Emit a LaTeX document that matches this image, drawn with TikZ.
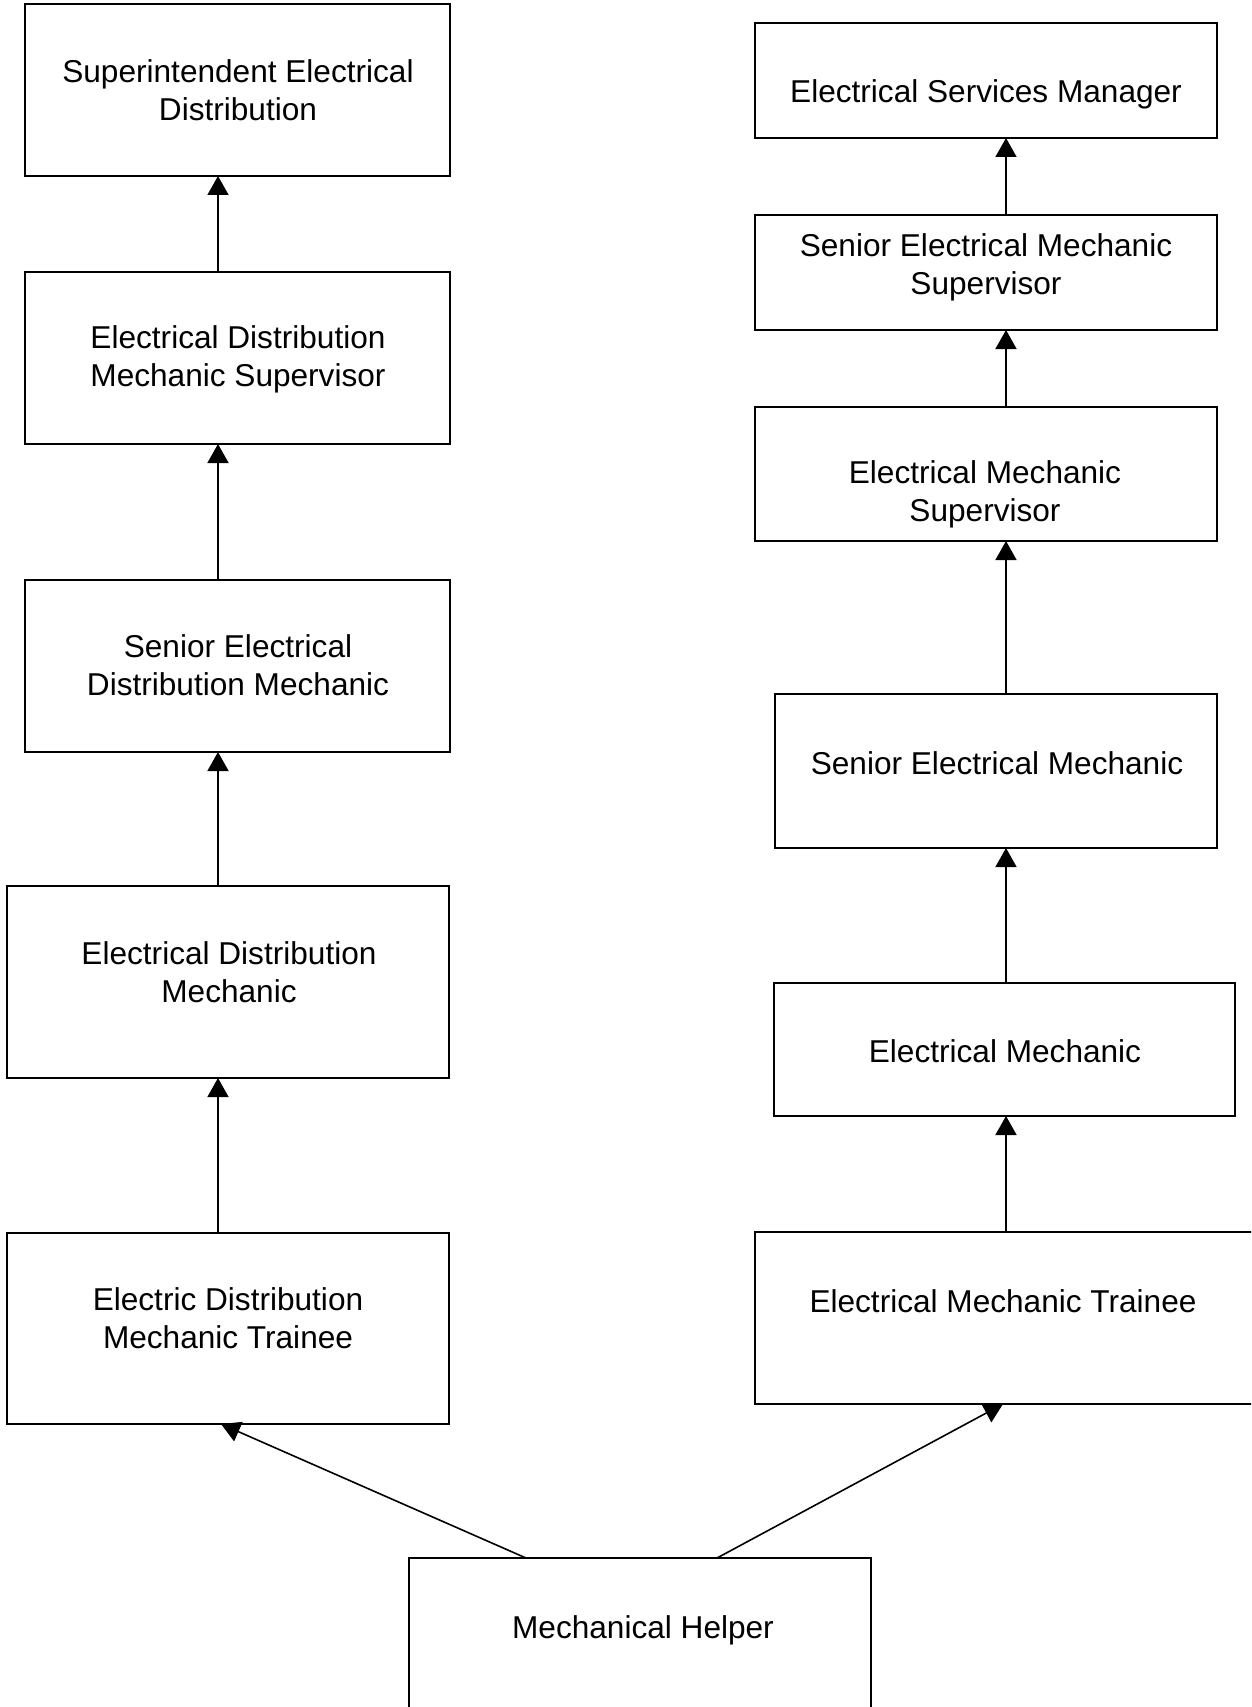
\documentclass[tikz,border=0pt]{standalone}
\usepackage{fontspec}
\setmainfont{Liberation Sans}
\usetikzlibrary{arrows.meta}
\begin{document}
\begin{tikzpicture}[x=1pt,y=-1pt,
  box/.style={draw=black, line width=1.6pt, fill=white, inner sep=0pt, outer sep=0pt, rectangle},
  lbl/.style={align=center, font=\fontsize{31.6}{38}\selectfont, inner sep=0pt},
  arr/.style={line width=1.6pt, -{Triangle[width=21pt,length=19pt]}}]
\useasboundingbox (0,0) rectangle (1251,1707);
\clip (0,0) rectangle (1251,1707);
\fill[white] (0,0) rectangle (1251,1707);
% left column
\node[box, minimum width=425pt, minimum height=172pt] (A) at (237.5,90) {};
\node[box, minimum width=425pt, minimum height=172pt] (B) at (237.5,358) {};
\node[box, minimum width=425pt, minimum height=172pt] (C) at (237.5,666) {};
\node[box, minimum width=442pt, minimum height=192pt] (D) at (228,982) {};
\node[box, minimum width=442pt, minimum height=191pt] (E) at (228,1328.5) {};
% right column
\node[box, minimum width=462pt, minimum height=115pt] (F) at (986,80.5) {};
\node[box, minimum width=462pt, minimum height=115pt] (G) at (986,272.5) {};
\node[box, minimum width=462pt, minimum height=134pt] (H) at (986,474) {};
\node[box, minimum width=442pt, minimum height=154pt] (I) at (996,771) {};
\node[box, minimum width=461pt, minimum height=133pt] (J) at (1004.5,1049.5) {};
\node[box, minimum width=505pt, minimum height=172pt] (K) at (1007.5,1318) {};
% bottom
\node[box, minimum width=462pt, minimum height=162pt] (M) at (640,1639) {};
% labels
\node[lbl] (tA) at (238,90) {Superintendent Electrical\\Distribution};
\node[lbl] (tB) at (238,359) {Electrical Distribution\\Mechanic Supervisor};
\node[lbl] (tC) at (238,665) {Senior Electrical\\Distribution Mechanic};
\node[lbl] (tD) at (229,972) {Electrical Distribution\\Mechanic};
\node[lbl] (tE) at (228,1318) {Electric Distribution\\Mechanic Trainee};
\node[lbl] (tF) at (986,94) {Electrical Services Manager};
\node[lbl] (tG) at (986,267) {Senior Electrical Mechanic\\Supervisor};
\node[lbl] (tH) at (985,494) {Electrical Mechanic\\Supervisor};
\node[lbl] (tI) at (997,763) {Senior Electrical Mechanic};
\node[lbl] (tJ) at (1005,1051) {Electrical Mechanic};
\node[lbl] (tK) at (1003,1301) {Electrical Mechanic Trainee};
\node[lbl] (tM) at (643,1630) {Mechanical Helper};
% connectors
\draw[arr] ([xshift=-19.5pt]B.north) -- ([xshift=-19.5pt]A.south);
\draw[arr] ([xshift=-19.5pt]C.north) -- ([xshift=-19.5pt]B.south);
\draw[arr] ([xshift=-10pt]D.north) -- ([xshift=-19.5pt]C.south);
\draw[arr] ([xshift=-10pt]E.north) -- ([xshift=-10pt]D.south);
\draw[arr] ([xshift=20pt]G.north) -- ([xshift=20pt]F.south);
\draw[arr] ([xshift=20pt]H.north) -- ([xshift=20pt]G.south);
\draw[arr] ([xshift=10pt]I.north) -- ([xshift=20pt]H.south);
\draw[arr] ([xshift=1.5pt]J.north) -- ([xshift=10pt]I.south);
\draw[arr] ([xshift=-1.5pt]K.north) -- ([xshift=1.5pt]J.south);
\draw[arr] ([xshift=-114pt]M.north) -- ([xshift=-7pt]E.south);
\draw[arr] ([xshift=77pt]M.north) -- ([xshift=-4.5pt]K.south);
\end{tikzpicture}
\end{document}
